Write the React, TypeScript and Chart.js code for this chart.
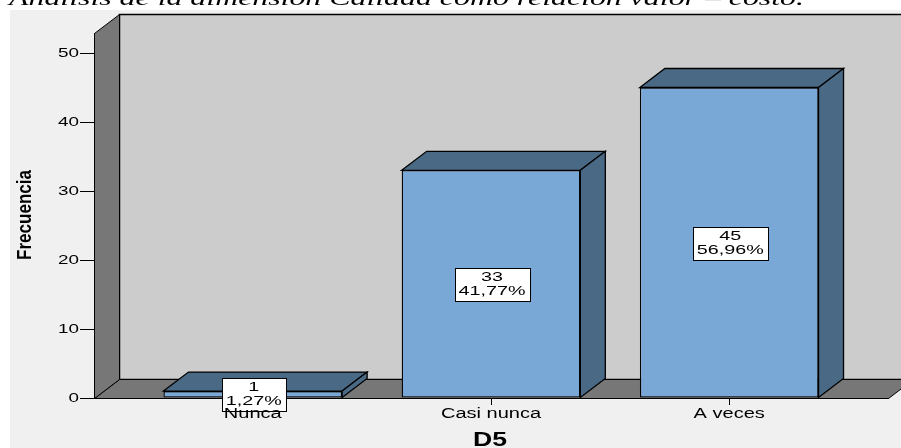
import React, { useEffect, useRef } from "react";
import { Chart, registerables } from "chart.js";

Chart.register(...registerables);

// ---- data ----
const CATEGORIES = ["Nunca", "Casi nunca", "A veces"];
const COUNTS = [1, 33, 45];
const PERCENTS = ["1,27%", "41,77%", "56,96%"];
const Y_TICKS = [0, 10, 20, 30, 40, 50];
const Y_MAX = 52.9;
const X_MIN = -2 / 3;
const X_MAX = 8 / 3;
const TITLE = "Análisis de la dimensión Calidad como relación valor – costo.";
const Y_TITLE = "Frecuencia";
const X_TITLE = "D5";

// ---- styles ----
const DX = 25;
const DY = 19;
const C = {
  page: "#ffffff",
  panel: "#f0f0f0",
  backWall: "#cccccc",
  sideWall: "#777777",
  barFront: "#7aa8d6",
  barDark: "#4a6985",
  ink: "#000000",
  text: "#000000",
};
const SANS = '"Liberation Sans", Arial, sans-serif';

function stretched(
  ctx: CanvasRenderingContext2D,
  text: string,
  x: number,
  y: number,
  sx: number,
  font: string,
  align: CanvasTextAlign,
  color: string
) {
  ctx.save();
  ctx.font = font;
  ctx.fillStyle = color;
  ctx.textAlign = align;
  ctx.textBaseline = "middle";
  ctx.translate(x, y);
  ctx.scale(sx, 1);
  ctx.fillText(text, 0, 0);
  ctx.restore();
}

function poly(ctx: CanvasRenderingContext2D, pts: number[][], fill: string, lw = 1) {
  ctx.beginPath();
  ctx.moveTo(pts[0][0], pts[0][1]);
  for (let i = 1; i < pts.length; i++) ctx.lineTo(pts[i][0], pts[i][1]);
  ctx.closePath();
  ctx.fillStyle = fill;
  ctx.fill();
  ctx.strokeStyle = C.ink;
  ctx.lineWidth = lw;
  ctx.lineJoin = "miter";
  ctx.stroke();
}

const spss3d = {
  id: "spss3d",
  beforeDraw(chart: any) {
    const ctx: CanvasRenderingContext2D = chart.ctx;
    ctx.save();
    ctx.fillStyle = C.page;
    ctx.fillRect(0, 0, chart.width, chart.height);
    ctx.fillStyle = C.panel;
    ctx.fillRect(10, 10, chart.width - 10, chart.height - 10);
    // cut-off caption above the chart
    ctx.font = 'italic 22px "Liberation Serif", "Times New Roman", serif';
    const w = ctx.measureText(TITLE).width;
    ctx.fillStyle = C.ink;
    ctx.textAlign = "left";
    ctx.textBaseline = "alphabetic";
    ctx.translate(9, 5);
    ctx.scale(795 / w, 1);
    ctx.fillText(TITLE, 0, 0);
    ctx.restore();
  },
  beforeDatasetsDraw(chart: any) {
    const ctx: CanvasRenderingContext2D = chart.ctx;
    const { left, right, top, bottom } = chart.chartArea;
    const l = Math.round(left) + 0.5;
    const r = Math.round(right) + 0.5;
    const t = Math.round(top) + 0.5;
    const b = Math.round(bottom) + 0.5;
    ctx.save();
    // back wall
    poly(ctx, [[l + DX, t - DY], [r + DX, t - DY], [r + DX, b - DY], [l + DX, b - DY]], C.backWall, 1.5);
    // floor
    poly(ctx, [[l, b], [l + DX, b - DY], [r + DX, b - DY], [r, b]], C.sideWall);
    // left wall
    poly(ctx, [[l, t], [l + DX, t - DY], [l + DX, b - DY], [l, b]], C.sideWall);
    ctx.restore();
  },
  afterDatasetsDraw(chart: any) {
    const ctx: CanvasRenderingContext2D = chart.ctx;
    const meta = chart.getDatasetMeta(0);
    ctx.save();
    meta.data.forEach((el: any) => {
      const { x, y, base, width } = el.getProps(["x", "y", "base", "width"], true);
      const L = x - width / 2;
      const R = x + width / 2;
      // top face
      poly(ctx, [[L, y], [L + DX, y - DY], [R + DX, y - DY], [R, y]], C.barDark, 1.3);
      // side face
      poly(ctx, [[R, y], [R + DX, y - DY], [R + DX, base - DY], [R, base]], C.barDark, 1.3);
    });
    // value labels
    const lf = `13px ${SANS}`;
    const lsx = 1.52;
    meta.data.forEach((el: any, i: number) => {
      const { x, y, base } = el.getProps(["x", "y", "base"], true);
      ctx.font = lf;
      const tw = Math.max(ctx.measureText(String(COUNTS[i])).width, ctx.measureText(PERCENTS[i]).width) * lsx;
      const bw = Math.round(tw + 8);
      const bh = 33;
      const cx = x + 1;
      const cy = (y + base) / 2 + 0.5;
      const bx = Math.round(cx - bw / 2) + 0.5;
      const by = Math.round(cy - bh / 2) + 0.5;
      ctx.fillStyle = "#ffffff";
      ctx.fillRect(bx, by, bw, bh);
      ctx.strokeStyle = C.ink;
      ctx.lineWidth = 1;
      ctx.strokeRect(bx, by, bw, bh);
      stretched(ctx, String(COUNTS[i]), cx, cy - 7, lsx, lf, "center", C.text);
      stretched(ctx, PERCENTS[i], cx, cy + 7, lsx, lf, "center", C.text);
    });
    // x tick labels
    const xs = chart.scales.x;
    xs.ticks.forEach((tk: any, i: number) => {
      const px = xs.getPixelForTick(i);
      stretched(ctx, CATEGORIES[tk.value], px, 414, 1.43, `14px ${SANS}`, "center", C.text);
    });
    // y tick labels
    const ys = chart.scales.y;
    ys.ticks.forEach((tk: any) => {
      const py = ys.getPixelForValue(tk.value);
      stretched(ctx, String(tk.value), ys.right - 15, py + 0.5, 1.45, `13px ${SANS}`, "right", C.text);
    });
    // axis titles
    stretched(ctx, X_TITLE, (xs.left + xs.right) / 2 - 1, 440, 1.33, `bold 20px ${SANS}`, "center", C.ink);
    ctx.save();
    ctx.font = `bold 17px ${SANS}`;
    const yw = ctx.measureText(Y_TITLE).width;
    ctx.fillStyle = C.ink;
    ctx.textAlign = "center";
    ctx.textBaseline = "middle";
    ctx.translate(25, 215);
    ctx.rotate(-Math.PI / 2);
    ctx.scale(90 / yw, 1.23);
    ctx.fillText(Y_TITLE, 0, 0);
    ctx.restore();
    ctx.restore();
  },
};

export default function App() {
  const ref = useRef<HTMLCanvasElement>(null);
  useEffect(() => {
    const chart = new Chart(ref.current as HTMLCanvasElement, {
      type: "bar",
      data: {
        datasets: [
          {
            data: CATEGORIES.map((_, i) => ({ x: i, y: COUNTS[i] })),
            backgroundColor: C.barFront,
            borderColor: C.ink,
            borderWidth: 1.3,
            borderSkipped: false,
            categoryPercentage: 1,
            barPercentage: 0.75,
          } as any,
        ],
      },
      options: {
        animation: false,
        responsive: false,
        devicePixelRatio: 1,
        layout: { padding: { top: 33, left: 54, right: 13, bottom: 0 } },
        plugins: { legend: { display: false }, tooltip: { enabled: false } },
        scales: {
          x: {
            type: "linear",
            min: X_MIN,
            max: X_MAX,
            bounds: "data",
            offset: false,
            grid: { offset: false, drawOnChartArea: false, drawTicks: true, tickLength: 7, color: C.ink, tickColor: C.ink },
            border: { display: true, color: C.ink },
            ticks: { display: false },
            afterBuildTicks: (s: any) => {
              s.ticks = CATEGORIES.map((_, i) => ({ value: i }));
            },
            afterFit: (s: any) => {
              s.height = 50;
            },
          },
          y: {
            type: "linear",
            min: 0,
            max: Y_MAX,
            bounds: "data",
            grid: { drawOnChartArea: false, drawTicks: true, tickLength: 14, color: C.ink, tickColor: C.ink },
            border: { display: true, color: C.ink },
            ticks: { display: false },
            afterBuildTicks: (s: any) => {
              s.ticks = Y_TICKS.map((v) => ({ value: v }));
            },
            afterFit: (s: any) => {
              s.width = 40;
            },
          },
        } as any,
      },
      plugins: [spss3d],
    });
    return () => chart.destroy();
  }, []);
  return (
    <div style={{ position: "absolute", left: 0, top: 0, width: 901, height: 448 }}>
      <canvas ref={ref} width={901} height={448} style={{ display: "block" }} />
    </div>
  );
}
